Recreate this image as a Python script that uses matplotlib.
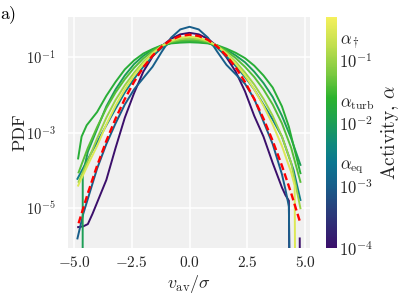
import numpy as np
import matplotlib
matplotlib.use('Agg')
import matplotlib.pyplot as plt
from matplotlib.colors import LinearSegmentedColormap, LogNorm
from matplotlib.cm import ScalarMappable
from matplotlib.ticker import NullLocator

plt.rcParams.update({'font.family': 'serif', 'font.serif': ['cmr10'],
                     'mathtext.fontset': 'cm', 'axes.formatter.use_mathtext': True})

# common velocity grid (v_av / sigma)
v_grid = [-4.8, -4.4, -4.0, -3.6, -3.2, -2.8, -2.4, -2.0, -1.6, -1.2, -0.8, -0.4, 0.0,
          0.4, 0.8, 1.2, 1.6, 2.0, 2.4, 2.8, 3.2, 3.6, 4.0, 4.4, 4.8]

# gaussian reference (red dashed)
gauss_pdf = [4.0e-6, 2.5e-5, 1.34e-4, 6.1e-4, 2.38e-3, 7.9e-3, 2.24e-2, 5.4e-2, 0.111, 0.194,
             0.290, 0.368, 0.399, 0.368, 0.290, 0.194, 0.111, 0.054, 2.24e-2, 7.9e-3,
             2.38e-3, 6.1e-4, 1.34e-4, 2.5e-5, 4.0e-6]

# activities of the simulation curves
alphas = [1e-4, 1e-3, 3e-3, 1e-2, 2e-2, 4e-2, 1e-1, 3e-1]

# log10 PDF for each activity (NaN = empty bins)
x_a1 = [-4.82, -4.6, -4.4, -4.2, -4.0, -3.6, -3.2, -2.8, -2.4, -2.0, -1.6, -1.2, -0.8, -0.4, 0.0,
        0.4, 0.8, 1.2, 1.6, 2.0, 2.4, 2.8, 3.2, 3.6, 4.0, 4.15, 4.3, 4.35, 4.5, 4.77, 4.79]
lp_a1 = [-5.50, -5.48, -5.42, -5.15, -4.85, -4.25, -3.40, -2.60, -1.95, -1.38, -0.98, -0.70, -0.51,
         -0.39, -0.35, -0.39, -0.51, -0.71, -1.00, -1.38, -1.90, -2.55, -3.10, -3.80, -4.45, -4.65,
         -4.80, -9, np.nan, -5.80, -9]

x_a2 = [-4.85, -4.6, -4.4, -4.0, -3.6, -3.2, -2.8, -2.4, -2.0, -1.6, -1.2, -0.8, -0.4, 0.0,
        0.4, 0.8, 1.2, 1.6, 2.0, 2.4, 2.8, 3.2, 3.6, 4.0, 4.15, 4.3, 4.37]
lp_a2 = [-5.80, -5.15, -4.75, -3.95, -3.30, -2.75, -2.25, -1.85, -1.55, -1.25, -0.85, -0.48, -0.26,
         -0.19, -0.26, -0.48, -0.85, -1.20, -1.45, -1.70, -2.10, -2.70, -3.30, -4.10, -4.50, -4.95, -9]

x_a3 = [-4.85] + v_grid[1:23] + [4.5, 4.8]
lp_a3 = [-4.22, -3.70, -3.25, -2.80, -2.36, -1.93, -1.57, -1.25, -0.97, -0.75, -0.60, -0.53, -0.50,
         -0.53, -0.60, -0.75, -0.97, -1.23, -1.52, -1.85, -2.25, -2.65, -3.10, -3.98, -4.78]

x_a4 = [-4.63, -4.62] + v_grid[1:]
lp_a4 = [-9, -4.10, -3.50, -2.90, -2.30, -1.85, -1.48, -1.18, -0.96, -0.80, -0.69, -0.62, -0.59,
         -0.58, -0.59, -0.62, -0.69, -0.80, -0.95, -1.13, -1.38, -1.68, -2.05, -2.55, -3.15, -3.85]

x_a5 = [-4.82, -4.67, -4.45] + v_grid[2:23] + [4.3, 4.8]
lp_a5 = [-3.68, -3.10, -2.80, -2.45, -2.02, -1.65, -1.32, -1.08, -0.90, -0.78, -0.68, -0.63, -0.61,
         -0.60, -0.61, -0.63, -0.68, -0.77, -0.88, -1.02, -1.22, -1.48, -1.80, -2.30, -2.84, -4.07]

x_a6 = v_grid
lp_a6 = [-4.05, -3.40, -2.85, -2.35, -1.93, -1.58, -1.28, -1.03, -0.83, -0.69, -0.60, -0.56, -0.55,
         -0.56, -0.60, -0.69, -0.83, -1.02, -1.25, -1.52, -1.85, -2.25, -2.75, -3.40, -4.30]

x_a7 = v_grid
lp_a7 = [-4.30, -3.75, -3.15, -2.60, -2.13, -1.74, -1.41, -1.12, -0.88, -0.70, -0.58, -0.52, -0.50,
         -0.52, -0.58, -0.70, -0.88, -1.12, -1.40, -1.72, -2.10, -2.55, -3.10, -3.80, -5.00]

x_a8 = [-4.82] + v_grid[1:24] + [4.55, 4.59]
lp_a8 = [-4.40, -3.85, -3.35, -2.78, -2.28, -1.85, -1.48, -1.17, -0.90, -0.70, -0.56, -0.48, -0.45,
         -0.48, -0.56, -0.70, -0.90, -1.17, -1.48, -1.85, -2.28, -2.78, -3.35, -4.05, -4.40, -9]

curves_x = [x_a1, x_a2, x_a3, x_a4, x_a5, x_a6, x_a7, x_a8]
curves_lp = [lp_a1, lp_a2, lp_a3, lp_a4, lp_a5, lp_a6, lp_a7, lp_a8]

cmap = LinearSegmentedColormap.from_list('act', [(0.0, '#3b0f6b'), (0.17, '#28407c'), (0.28, '#16618b'),
                                                 (0.37, '#0b7690'), (0.45, '#10897c'), (0.55, '#1ea052'),
                                                 (0.65, '#2bb32d'), (0.75, '#78c840'), (0.88, '#c2df4e'),
                                                 (1.0, '#f5f05c')])
norm = LogNorm(vmin=1e-4, vmax=0.5)

fig = plt.figure(figsize=(4.07, 3.05), dpi=100)
ax = fig.add_axes([0.167, 0.186, 0.595, 0.759])
ax.set_facecolor('#f0f0f0')
for s in ax.spines.values():
    s.set_visible(False)

for a, xs, lps in zip(alphas, curves_x, curves_lp):
    ax.plot(xs, 10.0 ** np.array(lps, dtype=float), color=cmap(norm(a)), lw=1.4, zorder=2)
ax.plot(v_grid, gauss_pdf, color='red', ls='--', dashes=(3, 1.5), lw=1.7, zorder=3)

ax.set_yscale('log')
ax.set_xlim(-5.26, 5.22)
ax.set_ylim(8.7e-7, 1.19)
ax.set_xticks([-5.0, -2.5, 0.0, 2.5, 5.0])
ax.set_yticks([1e-5, 1e-3, 1e-1])
ax.yaxis.set_minor_locator(NullLocator())
ax.grid(color='white', lw=1.1)
ax.set_axisbelow(True)
ax.tick_params(length=0, labelcolor='#262626')
ax.tick_params(axis='x', pad=5, labelsize=11)
ax.tick_params(axis='y', pad=9, labelsize=10.5)
ax.set_xlabel(r'$v_{\rm av}/\sigma$', fontsize=13, color='#262626', labelpad=2)
ax.set_ylabel('PDF', fontsize=13, color='#262626', labelpad=-1)
fig.text(0.0, 0.955, 'a)', fontsize=13, va='center', ha='left')

cax = fig.add_axes([0.801, 0.186, 0.026, 0.759])
cb = fig.colorbar(ScalarMappable(norm=norm, cmap=cmap), cax=cax)
cb.outline.set_visible(False)
cb.set_ticks([1e-4, 1e-3, 1e-2, 1e-1])
cax.yaxis.set_minor_locator(NullLocator())
cax.tick_params(length=0, labelsize=12, pad=2, labelcolor='#262626')
cb.set_label(r'Activity, $\alpha$', fontsize=14, color='#262626', labelpad=4)
for val, lab in [(2e-3, r'$\alpha_{\rm eq}$'), (2e-2, r'$\alpha_{\rm turb}$'), (2e-1, r'$\alpha_\dagger$')]:
    cax.text(1.28, val, lab, transform=cax.get_yaxis_transform(), fontsize=12,
             va='center', ha='left', color='#262626')

fig.savefig('out.png', dpi=100)
